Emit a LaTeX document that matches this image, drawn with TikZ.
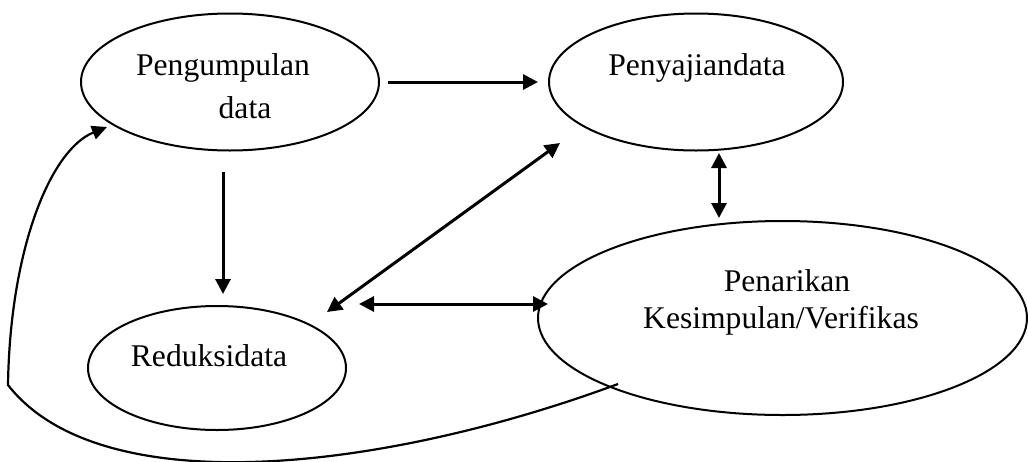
\documentclass[tikz,border=0pt]{standalone}
\usepackage{fontspec}
\setmainfont{Liberation Serif}
\usetikzlibrary{shapes.geometric,arrows.meta,calc}
\begin{document}
\begin{tikzpicture}[x=0.5pt,y=-0.5pt,
  oval/.style={draw, ellipse, line width=1pt, inner sep=0pt},
  lbl/.style={anchor=base, inner sep=0pt, font=\fontsize{15.8pt}{18pt}\selectfont},
  arr/.style={line width=1.5pt, -{Triangle[length=7.5pt,width=7.5pt]}},
  darr/.style={line width=1.5pt, {Triangle[length=7.5pt,width=7.5pt]}-{Triangle[length=7.5pt,width=7.5pt]}},
  loopline/.style={line width=1.1pt, -{Triangle[length=7.5pt,width=7pt]}}]
\useasboundingbox (0,0) rectangle (1028,461);
% ellipses
\node[oval, minimum width=149pt, minimum height=68.5pt] (e1) at (230,82) {};
\node[oval, minimum width=147pt, minimum height=68.5pt] (e2) at (696,82) {};
\node[oval, minimum width=129pt, minimum height=62pt] (e3) at (217,368) {};
\node[oval, minimum width=244.5pt, minimum height=97pt] (e4) at (782.5,318) {};
% texts
\node[lbl] (t1a) at (223,75) {Pengumpulan};
\node[lbl] (t1b) at (245,118) {data};
\node[lbl] (t2) at (697,75) {Penyajiandata};
\node[lbl] (t3) at (209,366) {Reduksidata};
\node[lbl] (t4a) at (787,291) {Penarikan};
\node[lbl] (t4b) at (781,328) {Kesimpulan/Verifikas};
% connectors
\draw[arr] ($(e1.center)+(158,0)$) -- ($(e2.center)+(-158,0)$);
\draw[arr] ($(e1.center)+(-7,90)$) -- ($(e3.center)+(6,-74)$);
\draw[darr] ($(e3.center)+(110,-56)$) -- ($(e2.center)+(-136,61)$);
\draw[darr] ($(e2.center)+(23,71)$) -- ($(e4.center)+(-63.5,-100)$);
\draw[darr] ($(e3.center)+(142,-64)$) -- ($(e4.center)+(-234.5,-14)$);
\coordinate (k) at (8,385);
\draw[loopline] ($(e4.center)+(-164.5,66)$) .. controls (380,472) and (100,503) .. (k)
  .. controls (10,250) and (50,150) .. ($(e1.center)+(-123,45)$);
\end{tikzpicture}
\end{document}
